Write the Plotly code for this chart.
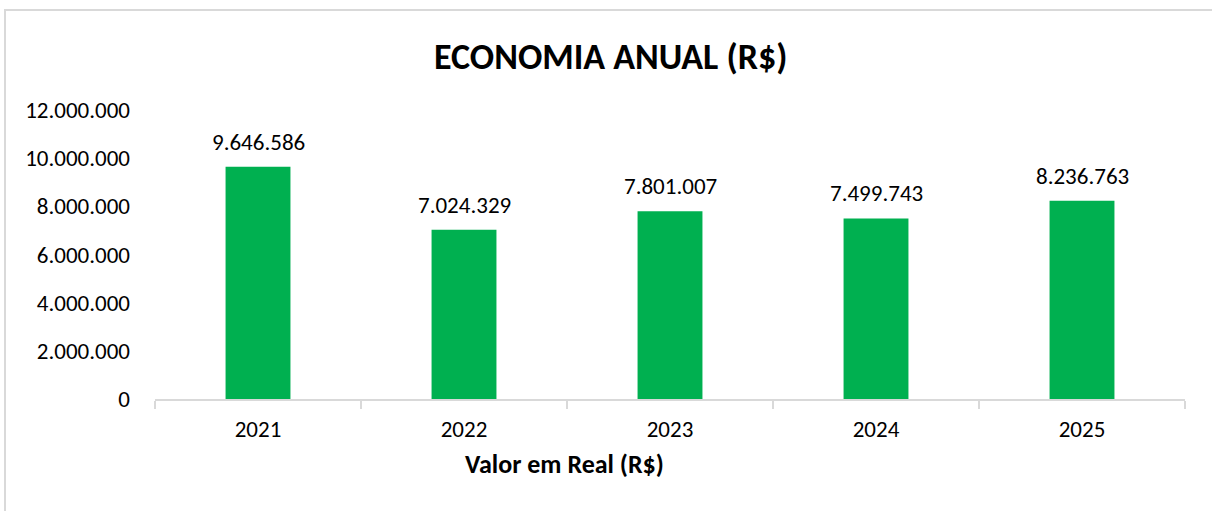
import plotly.graph_objects as go

years = ["2021", "2022", "2023", "2024", "2025"]
values = [9646586, 7024329, 7801007, 7499743, 8236763]
y_ticks = [0, 2000000, 4000000, 6000000, 8000000, 10000000, 12000000]
title = "ECONOMIA ANUAL (R$)"
x_title = "Valor em Real (R$)"

def br(n):
    return f"{n:,}".replace(",", ".")

FONT = "Carlito, Calibri, Lato, sans-serif"
W, H = 1212, 511
L, R, T, B = 155, 27, 110, 112

fig = go.Figure(go.Bar(
    x=years, y=values,
    marker=dict(color="#00B050", line=dict(width=0)),
    width=0.315,
    cliponaxis=False,
))

pw = W - L - R
ph = H - T - B

# category axes address categories by their serial index
label_annotations = [
    dict(text=br(v), x=i, y=v, xref="x", yref="y", showarrow=False,
         xanchor="center", yanchor="middle", yshift=25,
         font=dict(family=FONT, size=23, color="#000000"))
    for i, v in enumerate(values)
]

fig.update_layout(
    width=W, height=H,
    margin=dict(l=L, r=R, t=T, b=B, pad=0),
    paper_bgcolor="white", plot_bgcolor="white",
    showlegend=False,
    font=dict(family=FONT, color="#000000"),
    xaxis=dict(
        type="category",
        categoryorder="array", categoryarray=years,
        range=[-0.5, len(years) - 0.5],
        showline=True, linecolor="#d9d9d9", linewidth=2,
        ticks="outside", tickson="boundaries", ticklen=8, tickwidth=2, tickcolor="#d9d9d9",
        tickfont=dict(family=FONT, size=23, color="#000000"),
        showgrid=False, zeroline=False, ticklabelstandoff=8,
    ),
    yaxis=dict(
        range=[0, 12000000],
        tickvals=y_ticks,
        ticktext=[br(v) for v in y_ticks],
        tickfont=dict(family=FONT, size=23, color="#000000"),
        showgrid=False, zeroline=False, showline=False,
        ticks="", ticklabelstandoff=24,
    ),
    annotations=label_annotations + [
        dict(text=f"<b>{title}</b>", xref="paper", yref="paper",
             x=(610 - L) / pw, y=(H - B - 57) / ph, xanchor="center", yanchor="middle",
             showarrow=False, font=dict(family=FONT, size=36, color="#000000")),
        dict(text=f"<b>{x_title}</b>", xref="paper", yref="paper",
             x=(564 - L) / pw, y=(H - B - 464) / ph, xanchor="center", yanchor="middle",
             showarrow=False, font=dict(family=FONT, size=26, color="#000000")),
    ],
    shapes=[
        dict(type="rect", xref="paper", yref="paper",
             x0=(5 - L) / pw, x1=(1230 - L) / pw,
             y0=(H - B - 530) / ph, y1=(H - B - 10) / ph,
             line=dict(color="#d9d9d9", width=2), fillcolor="rgba(0,0,0,0)", layer="below"),
    ],
)

fig.write_html("out.html", config={"displayModeBar": False},
               post_script="document.body.style.margin='0';document.body.style.overflow='hidden';")
